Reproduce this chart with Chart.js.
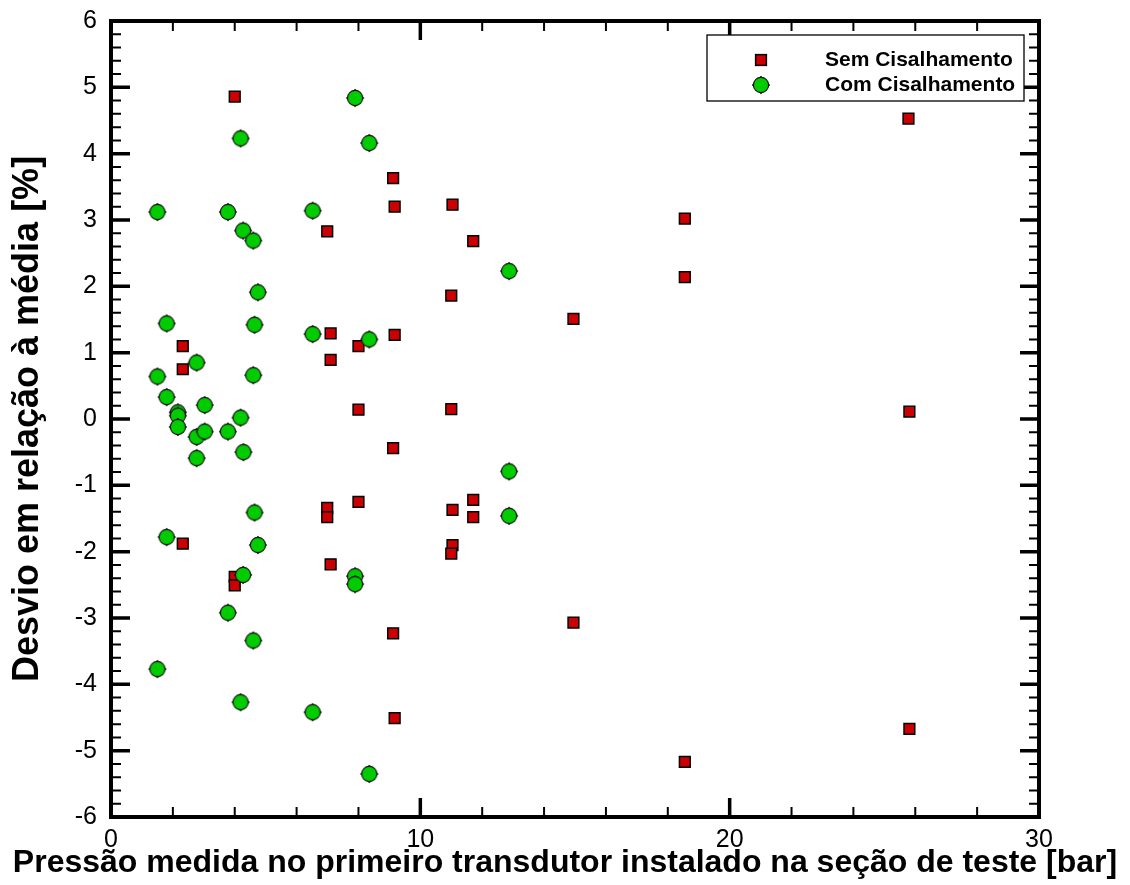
<!DOCTYPE html>
<html>
<head>
<meta charset="utf-8">
<title>Desvio em relação à média</title>
<script src="https://cdn.jsdelivr.net/npm/chart.js@4.4.0/dist/chart.umd.min.js"></script>
<style>
  html, body { margin: 0; padding: 0; background: #ffffff; }
  #wrap { width: 1130px; height: 885px; }
</style>
</head>
<body>
<div id="wrap"><canvas id="c" width="1130" height="885"></canvas></div>
<script>
// Pressure at the first transducer [bar] and deviation from the mean [%]
const semX = [4.00, 9.12, 9.17, 6.99, 7.10, 8.00, 9.17, 2.32, 2.32, 7.10,
              8.00, 9.12, 6.99, 6.99, 8.00, 2.32, 7.10, 4.00, 4.00, 9.12,
              9.17, 11.04, 11.71, 11.00, 14.95, 11.00, 18.55, 18.55, 11.71, 11.04,
              11.71, 11.04, 11.00, 14.95, 18.55, 25.78, 25.81, 25.81];
const semY = [4.86, 3.63, 3.20, 2.83, 1.29, 1.10, 1.27, 1.10, 0.75, 0.89,
              0.14, -0.44, -1.34, -1.48, -1.25, -1.88, -2.19, -2.38, -2.51, -3.23,
              -4.51, 3.23, 2.68, 1.86, 1.51, 0.15, 3.02, 2.14, -1.22, -1.37,
              -1.48, -1.90, -2.03, -3.07, -5.17, 4.53, 0.11, -4.67];

const comX = [7.89, 4.19, 8.35, 1.50, 3.78, 6.52, 4.27, 4.60, 4.75, 1.80,
              4.64, 6.52, 8.35, 2.77, 1.50, 4.60, 1.80, 3.03, 2.16, 2.16,
              4.19, 2.16, 2.77, 3.03, 3.78, 4.28, 2.77, 4.64, 1.80, 4.75,
              4.27, 7.89, 7.89, 3.78, 4.60, 1.50, 4.19, 6.52, 8.35, 12.87,
              12.87, 12.87];
const comY = [4.84, 4.23, 4.16, 3.12, 3.12, 3.14, 2.84, 2.69, 1.91, 1.44,
              1.42, 1.28, 1.20, 0.85, 0.64, 0.66, 0.33, 0.21, 0.10, 0.05,
              0.02, -0.12, -0.27, -0.19, -0.19, -0.50, -0.59, -1.41, -1.78, -1.90,
              -2.35, -2.37, -2.49, -2.92, -3.34, -3.77, -4.27, -4.42, -5.35, 2.23,
              -0.79, -1.46];

const seriesLabels = ['Sem Cisalhamento', 'Com Cisalhamento'];
const xTickValues = [0, 10, 20, 30];
const yTickValues = [-6, -5, -4, -3, -2, -1, 0, 1, 2, 3, 4, 5, 6];
const xTitle = 'Pressão medida no primeiro transdutor instalado na seção de teste [bar]';
const yTitle = 'Desvio em relação à média [%]';

const FONT = "'Liberation Sans', Arial, Helvetica, sans-serif";
Chart.defaults.font.family = FONT;
Chart.defaults.color = '#000';

// Green marker: round body with small diamond tips
function makeComMarker() {
  const s = 20, c = document.createElement('canvas');
  c.width = s; c.height = s;
  const g = c.getContext('2d');
  const m = s / 2;
  g.fillStyle = '#000';
  g.beginPath();
  g.moveTo(m, m - 9.2); g.lineTo(m + 9.2, m); g.lineTo(m, m + 9.2); g.lineTo(m - 9.2, m);
  g.closePath(); g.fill();
  g.beginPath();
  g.arc(m, m, 7.6, 0, Math.PI * 2);
  g.fillStyle = '#00cc00';
  g.fill();
  g.lineWidth = 1.1;
  g.strokeStyle = '#111';
  g.stroke();
  return c;
}
const comMarker = makeComMarker();

// Closed frame with inward major/minor ticks on all four sides
const frameTicks = {
  id: 'frameTicks',
  afterDatasetsDraw(chart) {
    const { ctx, chartArea: a, scales } = chart;
    const xs = scales.x, ys = scales.y;
    ctx.save();
    ctx.strokeStyle = '#000';
    ctx.lineCap = 'butt';
    const MAJ = 19, MIN = 10;
    const xMajorStep = 10, xMinorStep = 2, yMajorStep = 1, yMinorStep = 0.2;
    const isMult = (v, s) => Math.abs(v / s - Math.round(v / s)) < 1e-6;
    for (let i = 0; ; i++) {
      const v = xs.min + i * xMinorStep;
      if (v > xs.max + 1e-9) break;
      if (v <= xs.min + 1e-9 || v >= xs.max - 1e-9) continue;
      const major = isMult(v, xMajorStep);
      const len = major ? MAJ : MIN;
      const px = xs.getPixelForValue(v);
      ctx.lineWidth = major ? 3.5 : 2;
      ctx.beginPath();
      ctx.moveTo(px, a.bottom); ctx.lineTo(px, a.bottom - len);
      ctx.moveTo(px, a.top); ctx.lineTo(px, a.top + len);
      ctx.stroke();
    }
    for (let i = 0; ; i++) {
      const v = ys.min + i * yMinorStep;
      if (v > ys.max + 1e-9) break;
      if (v <= ys.min + 1e-9 || v >= ys.max - 1e-9) continue;
      const major = isMult(v, yMajorStep);
      const len = major ? MAJ : MIN;
      const py = ys.getPixelForValue(v);
      ctx.lineWidth = major ? 3.5 : 2;
      ctx.beginPath();
      ctx.moveTo(a.left, py); ctx.lineTo(a.left + len, py);
      ctx.moveTo(a.right, py); ctx.lineTo(a.right - len, py);
      ctx.stroke();
    }
    ctx.lineWidth = 4;
    ctx.strokeRect(a.left, a.top, a.right - a.left, a.bottom - a.top);
    ctx.restore();
  }
};

// Horizontal axis title, centred slightly left of the plot centre
const xAxisTitle = {
  id: 'xAxisTitle',
  afterDraw(chart) {
    const { ctx, chartArea: a } = chart;
    ctx.save();
    ctx.fillStyle = '#000';
    ctx.font = 'bold 32px ' + FONT;
    ctx.textAlign = 'center';
    ctx.textBaseline = 'middle';
    ctx.fillText(xTitle, (a.left + a.right) / 2 - 10, chart.height - 22, 1118);
    ctx.restore();
  }
};

// Boxed legend in the upper right corner of the plot
const boxLegend = {
  id: 'boxLegend',
  afterDraw(chart) {
    const { ctx, chartArea: a } = chart;
    const bx = a.right - 332, by = a.top + 14, bw = 317, bh = 66;
    ctx.save();
    ctx.fillStyle = '#fff';
    ctx.fillRect(bx, by, bw, bh);
    ctx.strokeStyle = '#000';
    ctx.lineWidth = 1.3;
    ctx.strokeRect(bx, by, bw, bh);
    chart.data.datasets.forEach((ds, i) => {
      const cy = by + 25 + i * 25;
      const mx = bx + 54;
      if (ds.pointStyle instanceof HTMLCanvasElement) {
        ctx.drawImage(ds.pointStyle, Math.round(mx - ds.pointStyle.width / 2), Math.round(cy - ds.pointStyle.height / 2));
      } else {
        const s = ds.pointRadius * Math.SQRT2;
        ctx.fillStyle = ds.backgroundColor;
        ctx.fillRect(mx - s / 2, cy - s / 2, s, s);
        ctx.lineWidth = ds.borderWidth;
        ctx.strokeStyle = ds.borderColor;
        ctx.strokeRect(mx - s / 2, cy - s / 2, s, s);
      }
      ctx.fillStyle = '#000';
      ctx.font = 'bold 21px ' + FONT;
      ctx.textAlign = 'left';
      ctx.textBaseline = 'middle';
      ctx.fillText(ds.label, bx + 118, cy);
    });
    ctx.restore();
  }
};

const semPoints = semX.map((x, i) => ({ x: x, y: semY[i] }));
const comPoints = comX.map((x, i) => ({ x: x, y: comY[i] }));

function noEdgePadding(scale) {
  scale.paddingTop = 0; scale.paddingBottom = 0;
  scale.paddingLeft = 0; scale.paddingRight = 0;
}

new Chart(document.getElementById('c'), {
  type: 'scatter',
  data: {
    datasets: [
      {
        label: seriesLabels[0],
        data: semPoints,
        pointStyle: 'rect',
        pointRadius: 7.6,
        backgroundColor: '#cc0000',
        borderColor: '#000',
        borderWidth: 1.5,
        order: 1
      },
      {
        label: seriesLabels[1],
        data: comPoints,
        pointStyle: comMarker,
        pointRadius: 9,
        backgroundColor: '#00cc00',
        borderColor: '#000',
        borderWidth: 1,
        order: 0
      }
    ]
  },
  options: {
    responsive: false,
    animation: false,
    devicePixelRatio: 1,
    events: [],
    layout: { padding: { left: 0, right: 91, top: 21, bottom: 0 } },
    plugins: {
      legend: { display: false },
      tooltip: { enabled: false }
    },
    scales: {
      x: {
        type: 'linear',
        min: 0, max: 30,
        afterFit(scale) { scale.height = 68; noEdgePadding(scale); },
        afterBuildTicks(scale) { scale.ticks = xTickValues.map(v => ({ value: v })); },
        grid: { display: false, drawTicks: false, tickLength: 0 },
        border: { display: false },
        ticks: { autoSkip: false, maxRotation: 0, padding: 8, color: '#000', font: { size: 25 } },
        title: { display: false }
      },
      y: {
        type: 'linear',
        min: -6, max: 6,
        afterFit(scale) { scale.width = 111; noEdgePadding(scale); },
        afterBuildTicks(scale) { scale.ticks = yTickValues.map(v => ({ value: v })); },
        grid: { display: false, drawTicks: false, tickLength: 0 },
        border: { display: false },
        ticks: { autoSkip: false, padding: 14, color: '#000', font: { size: 25 } },
        title: {
          display: true, text: yTitle, color: '#000',
          font: { size: 36, weight: 'bold' }, padding: { top: 6, bottom: 0 }
        }
      }
    }
  },
  plugins: [frameTicks, xAxisTitle, boxLegend]
});
</script>
</body>
</html>
